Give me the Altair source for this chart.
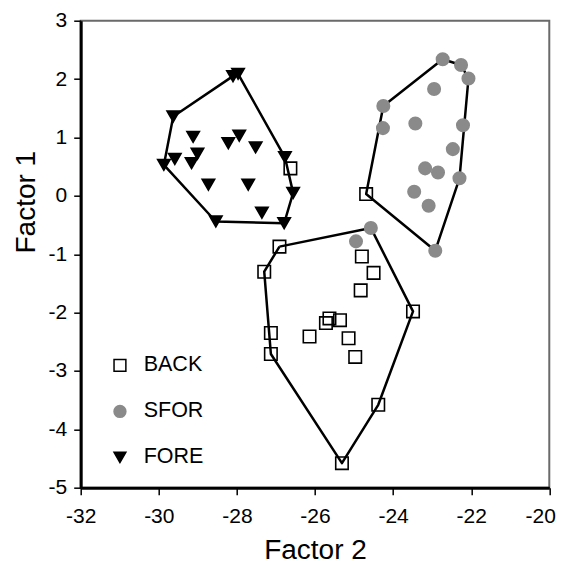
import altair as alt
import pandas as pd

# ---- data ----
groups = ["BACK", "SFOR", "FORE"]

back_x = [-26.63, -24.69, -26.91, -27.30, -24.80, -24.50, -24.83, -23.49, -25.63,
          -25.72, -25.36, -27.13, -26.14, -25.14, -27.13, -24.97, -24.38, -25.31]
back_y = [0.47, 0.03, -0.87, -1.30, -1.04, -1.32, -1.62, -1.98, -2.10,
          -2.18, -2.13, -2.35, -2.41, -2.44, -2.71, -2.76, -3.58, -4.58]

sfor_x = [-22.73, -22.26, -22.07, -22.95, -24.25, -24.26, -23.43, -22.21, -22.47,
          -23.18, -22.85, -22.30, -23.46, -23.09, -22.92, -24.57, -24.95]
sfor_y = [2.34, 2.24, 2.01, 1.83, 1.54, 1.16, 1.24, 1.21, 0.80,
          0.47, 0.40, 0.30, 0.07, -0.17, -0.94, -0.55, -0.78]

fore_x = [-28.10, -27.97, -29.63, -29.12, -28.22, -27.94, -27.52, -29.01, -29.16,
          -29.59, -29.87, -26.77, -26.56, -28.73, -27.71, -27.36, -28.54, -26.79]
fore_y = [2.05, 2.09, 1.36, 1.01, 0.90, 1.03, 0.83, 0.72, 0.56,
          0.63, 0.53, 0.66, 0.05, 0.19, 0.19, -0.29, -0.44, -0.47]

hull_fore_x = [-29.63, -28.10, -27.97, -26.77, -26.56, -26.79, -28.54, -29.87, -29.63]
hull_fore_y = [1.36, 2.05, 2.09, 0.66, 0.05, -0.47, -0.44, 0.53, 1.36]
hull_sfor_x = [-24.25, -22.73, -22.26, -22.07, -22.30, -22.92, -24.69, -24.25]
hull_sfor_y = [1.54, 2.34, 2.24, 2.01, 0.30, -0.94, 0.03, 1.54]
hull_back_x = [-26.91, -24.57, -23.49, -24.38, -25.31, -27.13, -27.30, -26.91]
hull_back_y = [-0.87, -0.55, -1.98, -3.58, -4.58, -2.71, -1.30, -0.87]

x_ticks = [-32, -30, -28, -26, -24, -22, -20]
y_ticks = [-5, -4, -3, -2, -1, 0, 1, 2, 3]

# ---- tables ----
pts = pd.concat([
    pd.DataFrame({"f2": back_x, "f1": back_y, "grp": "BACK"}),
    pd.DataFrame({"f2": sfor_x, "f1": sfor_y, "grp": "SFOR"}),
    pd.DataFrame({"f2": fore_x, "f1": fore_y, "grp": "FORE"}),
], ignore_index=True)

hulls = pd.concat([
    pd.DataFrame({"f2": hull_back_x, "f1": hull_back_y, "h": "BACK", "i": range(len(hull_back_x))}),
    pd.DataFrame({"f2": hull_sfor_x, "f1": hull_sfor_y, "h": "SFOR", "i": range(len(hull_sfor_x))}),
    pd.DataFrame({"f2": hull_fore_x, "f1": hull_fore_y, "h": "FORE", "i": range(len(hull_fore_x))}),
], ignore_index=True)

FONT = "Liberation Sans"
GREY = "#8a8a8a"
LBL = "'' + datum.value"

xs = alt.Scale(domain=[-32, -20], nice=False, zero=False)
ys = alt.Scale(domain=[-5, 3], nice=False, zero=False)

xaxis = alt.Axis(values=x_ticks, title="Factor 2", grid=False, labelFlush=False,
                 labelOverlap=False, tickSize=7, labelPadding=11, labelExpr=LBL,
                 labelOffset={"condition": {"test": "datum.value == -20", "value": -9}, "value": 0},
                 titleX=234.3, titleY=71, titleBaseline="alphabetic", titleAlign="center")
yaxis = alt.Axis(values=y_ticks, title="Factor 1", grid=False, labelFlush=False,
                 labelOverlap=False, tickSize=7, labelPadding=7, labelExpr=LBL,
                 titleX=-54, titleY=181, titleBaseline="middle", titleAlign="center",
                 titleAngle=270)

lines = alt.Chart(hulls).mark_line(color="black", strokeWidth=2.5, strokeJoin="round").encode(
    x=alt.X("f2:Q", scale=xs, axis=xaxis),
    y=alt.Y("f1:Q", scale=ys, axis=yaxis),
    detail="h:N",
    order="i:Q",
)

legend = alt.Legend(title=None, orient="none", legendX=28.5, legendY=334,
                    labelFontSize=21.5, labelFont=FONT, labelColor="black",
                    symbolSize=140, symbolStrokeWidth=1.5, rowPadding=23,
                    labelOffset=13, padding=0)

points = alt.Chart(pts).mark_point(filled=True, strokeWidth=1.6, opacity=1, size=155).encode(
    x=alt.X("f2:Q", scale=xs),
    y=alt.Y("f1:Q", scale=ys),
    shape=alt.Shape("grp:N", scale=alt.Scale(domain=groups, range=["square", "circle", "triangle-down"]),
                    legend=legend),
    fill=alt.Fill("grp:N", scale=alt.Scale(domain=groups, range=["transparent", GREY, "black"]),
                  legend=legend),
    stroke=alt.Stroke("grp:N", scale=alt.Scale(domain=groups, range=["black", GREY, "black"]),
                      legend=legend),
)

chart = alt.layer(lines, points).properties(
    width=468.6,
    height=467,
    autosize=alt.AutoSizeParams(type="none"),
    padding={"left": 72.7, "top": 12.7, "right": 7.5, "bottom": 80},
).configure_view(
    stroke="#6a6a6a", strokeWidth=2
).configure_axis(
    labelFont=FONT, titleFont=FONT, labelFontSize=21, titleFontSize=28,
    titleFontWeight="normal", labelColor="black", titleColor="black",
    domainColor="black", domainWidth=3, tickColor="black", tickWidth=1.5,
)

chart.save("out.html", embed_options={"renderer": "svg", "actions": False})
